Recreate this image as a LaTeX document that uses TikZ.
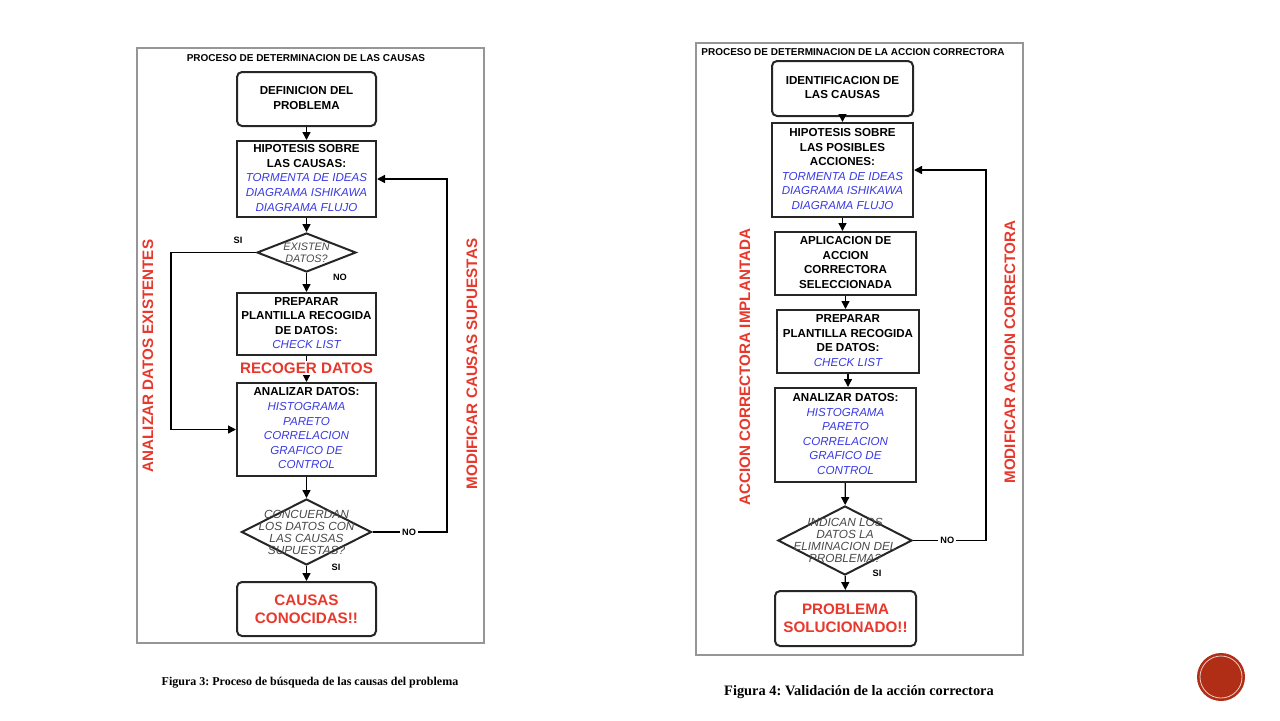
\documentclass[tikz,border=0pt]{standalone}
\usepackage{fontspec}
\setmainfont{Liberation Sans}
\newfontfamily\captionserif{Liberation Serif}
\usepackage{xcolor}
\usepackage{tikz}
\usetikzlibrary{arrows.meta,shapes.geometric,positioning}
\frenchspacing
\definecolor{hotred}{RGB}{232,56,44}
\definecolor{ideablue}{RGB}{58,58,228}
\definecolor{askgrey}{RGB}{72,72,72}
\definecolor{framegrey}{RGB}{150,150,150}
\definecolor{badge}{RGB}{176,46,22}
\newcommand{\tool}[1]{\textcolor{ideablue}{\mdseries\itshape #1}}
\tikzset{squarebox/.style={
    % The shape:
    rectangle,inner sep=0pt,
    % The rest
    line width=1pt,draw=black!85,fill=white,
    font=\fontsize{5.8}{7.3}\selectfont\bfseries
  },
  roundrect/.style={squarebox,rounded corners=2.5pt},
  decision/.style={
    % The shape:
    diamond,inner sep=0pt,
    % The rest
    line width=1pt,draw=black!85
  },
  asktext/.style={align=center,text=askgrey,
    font=\fontsize{5.9}{6}\selectfont\itshape},
  flow/.style={line width=0.7pt,-{Triangle[length=4pt,width=4pt]}},
  answer/.style={font=\fontsize{4.6}{5}\selectfont\bfseries,inner sep=1pt},
  shout/.style={text=hotred,align=center,
    font=\fontsize{7.6}{9}\selectfont\bfseries},
  panel/.style={draw=framegrey,line width=0.6pt},
  paneltitle/.style={font=\fontsize{5}{6}\selectfont\bfseries},
  figcaption/.style={font=\captionserif\fontsize{6}{7}\selectfont\bfseries}
}
\begin{document}
\begin{tikzpicture}[x=0.5pt,y=-0.5pt]
  \useasboundingbox (0,0) rectangle (1280,720);

  % Figura 3
  \draw[panel] (137,48) rectangle (484,643);
  \node (titleA) [paneltitle] at (306,58) {PROCESO DE DETERMINACION DE LAS CAUSAS};

  \node (defA) [roundrect,minimum width=69.5pt,minimum height=27pt] at (306.5,99) {
    \begin{tabular}{@{}c@{}}
      DEFINICION DEL\\
      PROBLEMA
  \end{tabular}};

  \node (hipA) [squarebox,minimum width=69.5pt,minimum height=38pt] at (306.5,179) {
    \begin{tabular}{@{}c@{}}
      HIPOTESIS SOBRE\\
      LAS CAUSAS:\\
      \tool{TORMENTA DE IDEAS}\\
      \tool{DIAGRAMA ISHIKAWA}\\
      \tool{DIAGRAMA FLUJO}
  \end{tabular}};

  \node (existA) [decision,minimum width=49.5pt,minimum height=19.5pt,
    label={[asktext,font=\fontsize{5.4}{6}\selectfont\itshape]center:{EXISTEN\\DATOS?}}] at (306.5,252.5) {};

  \node (prepA) [squarebox,minimum width=69.5pt,minimum height=31pt] at (306.5,324) {
    \begin{tabular}{@{}c@{}}
      PREPARAR\\
      PLANTILLA RECOGIDA\\
      DE DATOS:\\
      \tool{CHECK LIST}
  \end{tabular}};

  \node (anaA) [squarebox,minimum width=69.5pt,minimum height=46.5pt] at (306.5,429.5) {
    \begin{tabular}{@{}c@{}}
      ANALIZAR DATOS:\\
      \tool{HISTOGRAMA}\\
      \tool{PARETO}\\
      \tool{CORRELACION}\\
      \tool{GRAFICO DE}\\
      \tool{CONTROL}
  \end{tabular}};

  \node (concA) [decision,minimum width=65pt,minimum height=33pt,
    label={[asktext]center:{CONCUERDAN\\LOS DATOS CON\\LAS CAUSAS\\SUPUESTAS?}}] at (306.5,532) {};

  \node (causA) [roundrect,minimum width=69.5pt,minimum height=27pt,shout] at (306.5,609) {
    CAUSAS\\
    CONOCIDAS!!};

  \path (defA) edge[flow] (hipA);
  \path (hipA) edge[flow] (existA);
  \path (existA) edge[flow] (prepA);
  \path (prepA) edge[flow] (anaA);
  \path (anaA) edge[flow] (concA);
  \path (concA) edge[flow] (causA);

  \node (recogA) [shout,fill=white,inner sep=1pt] at (306.5,368) {RECOGER DATOS};

  \coordinate (siA) at (171,252.5);
  \draw[flow] (existA.west) -- (siA) |- (anaA.west);
  \coordinate (noA) at (447,532);
  \draw[flow] (concA.east) -- (noA) node[answer,pos=.49,fill=white] {NO} |- (hipA.east);

  \node (siA-lbl) [answer] at (238,240) {SI};
  \node (noA-lbl) [answer] at (340,277) {NO};
  \node (siA2-lbl) [answer] at (336,567) {SI};

  \node (leftA) [shout,rotate=90] at (148,356) {ANALIZAR DATOS EXISTENTES};
  \node (rightA) [shout,rotate=90] at (472,364) {MODIFICAR CAUSAS SUPUESTAS};

  \node (capA) [figcaption] at (310,683) {Figura 3: Proceso de búsqueda de las causas del problema};

  % Figura 4
  \draw[panel] (696,43) rectangle (1023,655);
  \node (titleB) [paneltitle] at (853,52) {PROCESO DE DETERMINACION DE LA ACCION CORRECTORA};

  \node (identB) [roundrect,minimum width=70.5pt,minimum height=27.5pt] at (842.5,88.5) {
    \begin{tabular}{@{}c@{}}
      IDENTIFICACION DE\\
      LAS CAUSAS
  \end{tabular}};

  \node (hipB) [squarebox,minimum width=70.5pt,minimum height=47pt] at (842.5,170) {
    \begin{tabular}{@{}c@{}}
      HIPOTESIS SOBRE\\
      LAS POSIBLES\\
      ACCIONES:\\
      \tool{TORMENTA DE IDEAS}\\
      \tool{DIAGRAMA ISHIKAWA}\\
      \tool{DIAGRAMA FLUJO}
  \end{tabular}};

  \node (aplB) [squarebox,minimum width=70.5pt,minimum height=31.5pt] at (845.5,263.5) {
    \begin{tabular}{@{}c@{}}
      APLICACION DE\\
      ACCION\\
      CORRECTORA\\
      SELECCIONADA
  \end{tabular}};

  \node (prepB) [squarebox,minimum width=71pt,minimum height=31.5pt] at (848,341.5) {
    \begin{tabular}{@{}c@{}}
      PREPARAR\\
      PLANTILLA RECOGIDA\\
      DE DATOS:\\
      \tool{CHECK LIST}
  \end{tabular}};

  \node (anaB) [squarebox,minimum width=70.5pt,minimum height=47pt] at (845.5,435) {
    \begin{tabular}{@{}c@{}}
      ANALIZAR DATOS:\\
      \tool{HISTOGRAMA}\\
      \tool{PARETO}\\
      \tool{CORRELACION}\\
      \tool{GRAFICO DE}\\
      \tool{CONTROL}
  \end{tabular}};

  \node (indB) [decision,minimum width=67pt,minimum height=34.5pt,
    label={[asktext]center:{INDICAN LOS\\DATOS LA\\ELIMINACION DEL\\PROBLEMA?}}] at (845,540.5) {};

  \node (probB) [roundrect,minimum width=70.5pt,minimum height=27.5pt,shout] at (845.5,618.5) {
    PROBLEMA\\
    SOLUCIONADO!!};

  \path (identB) edge[flow] (hipB);
  \path (hipB.south) edge[flow] (hipB.south |- aplB.north);
  \path (aplB.south) edge[flow] (aplB.south |- prepB.north);
  \path (prepB.south) edge[flow] (prepB.south |- anaB.north);
  \path (anaB) edge[flow] (indB);
  \path (indB) edge[flow] (probB);

  \coordinate (noB) at (986,540.5);
  \draw[flow] (indB.east) -- (noB) node[answer,pos=.47,fill=white] {NO} |- (hipB.east);
  \node (siB-lbl) [answer] at (877,573) {SI};

  \node (leftB) [shout,rotate=90] at (745,367) {ACCION CORRECTORA IMPLANTADA};
  \node (rightB) [shout,rotate=90] at (1010,352) {MODIFICAR ACCION CORRECTORA};

  \node (capB) [figcaption,font=\captionserif\fontsize{7.2}{8}\selectfont\bfseries] at (859,692) {Figura 4: Validación de la acción correctora};

  % badge
  \fill[badge] (1221,677) circle (12pt);
  \draw[white!75!badge,line width=0.4pt] (1221,677) circle (10.5pt);
\end{tikzpicture}
\end{document}
